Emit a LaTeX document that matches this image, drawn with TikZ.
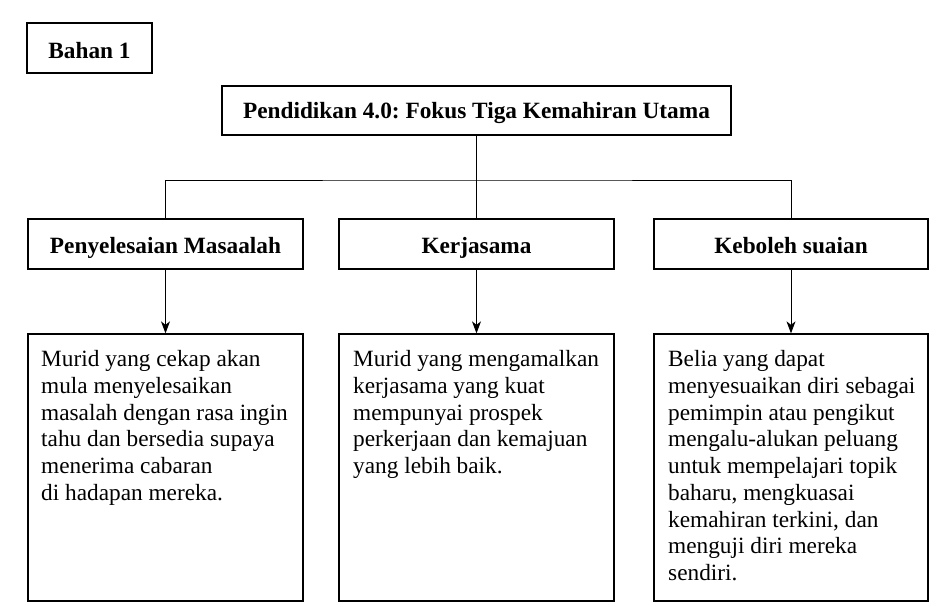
\documentclass[tikz,border=0pt]{standalone}
\usepackage{fontspec}
\setmainfont{Liberation Serif}
\usetikzlibrary{arrows.meta}
\frenchspacing
\begin{document}
\begin{tikzpicture}[x=1pt,y=-1pt,
  boxshape/.style={draw=black,line width=1.3pt,inner sep=0pt},
  headtext/.style={font=\fontsize{23.3}{26.7}\selectfont\bfseries,inner sep=0pt,anchor=base},
  bodytext/.style={font=\fontsize{23.3}{26.7}\selectfont,inner sep=0pt,anchor=base west,align=left},
  conn/.style={line width=0.9pt},
  arr/.style={line width=0.9pt,-{Stealth[length=12pt,width=9pt,inset=3.5pt]}}]
\useasboundingbox (0,0) rectangle (938,606);
% boxes
\node[boxshape,minimum width=125pt,minimum height=50pt] (bahan) at (89.5,48) {};
\node[boxshape,minimum width=509pt,minimum height=49pt] (title) at (476.5,110.5) {};
\node[boxshape,minimum width=275pt,minimum height=50pt] (h1) at (165.5,244) {};
\node[boxshape,minimum width=275pt,minimum height=50pt] (h2) at (476.5,244) {};
\node[boxshape,minimum width=274pt,minimum height=50pt] (h3) at (791,244) {};
\node[boxshape,minimum width=275pt,minimum height=267pt] (c1) at (165.5,467.5) {};
\node[boxshape,minimum width=275pt,minimum height=267pt] (c2) at (476.5,467.5) {};
\node[boxshape,minimum width=274pt,minimum height=267pt] (c3) at (791,467.5) {};
% texts
\node[headtext] (tbahan) at (89.5,58.3) {Bahan 1};
\node[headtext] (ttitle) at (476.5,118.3) {Pendidikan 4.0: Fokus Tiga Kemahiran Utama};
\node[headtext] (th1) at (165.5,253.3) {Penyelesaian Masaalah};
\node[headtext] (th2) at (476.5,253.3) {Kerjasama};
\node[headtext] (th3) at (791,253.3) {Keboleh suaian};
% base anchor sits on the last line's baseline
\node[bodytext] (tc1) at (41,500.3) {Murid yang cekap akan\\mula menyelesaikan\\masalah dengan rasa ingin\\tahu dan bersedia supaya\\menerima cabaran\\di hadapan mereka.};
\node[bodytext] (tc2) at (353,473.6) {Murid yang mengamalkan\\kerjasama yang kuat\\mempunyai prospek\\perkerjaan dan kemajuan\\yang lebih baik.};
\node[bodytext] (tc3) at (668,580.4) {Belia yang dapat\\menyesuaikan diri sebagai\\pemimpin atau pengikut\\mengalu-alukan peluang\\untuk mempelajari topik\\baharu, mengkuasai\\kemahiran terkini, dan\\menguji diri mereka\\sendiri.};
% connectors
\coordinate (bus) at (476.5,180);
\draw[conn] (title.south) -- (h2.north);
\draw[conn] (h1.north) |- (bus) -| (h3.north);
\draw[arr] (h1.south) -- (c1.north);
\draw[arr] (h2.south) -- (c2.north);
\draw[arr] (h3.south) -- (c3.north);
\end{tikzpicture}
\end{document}
